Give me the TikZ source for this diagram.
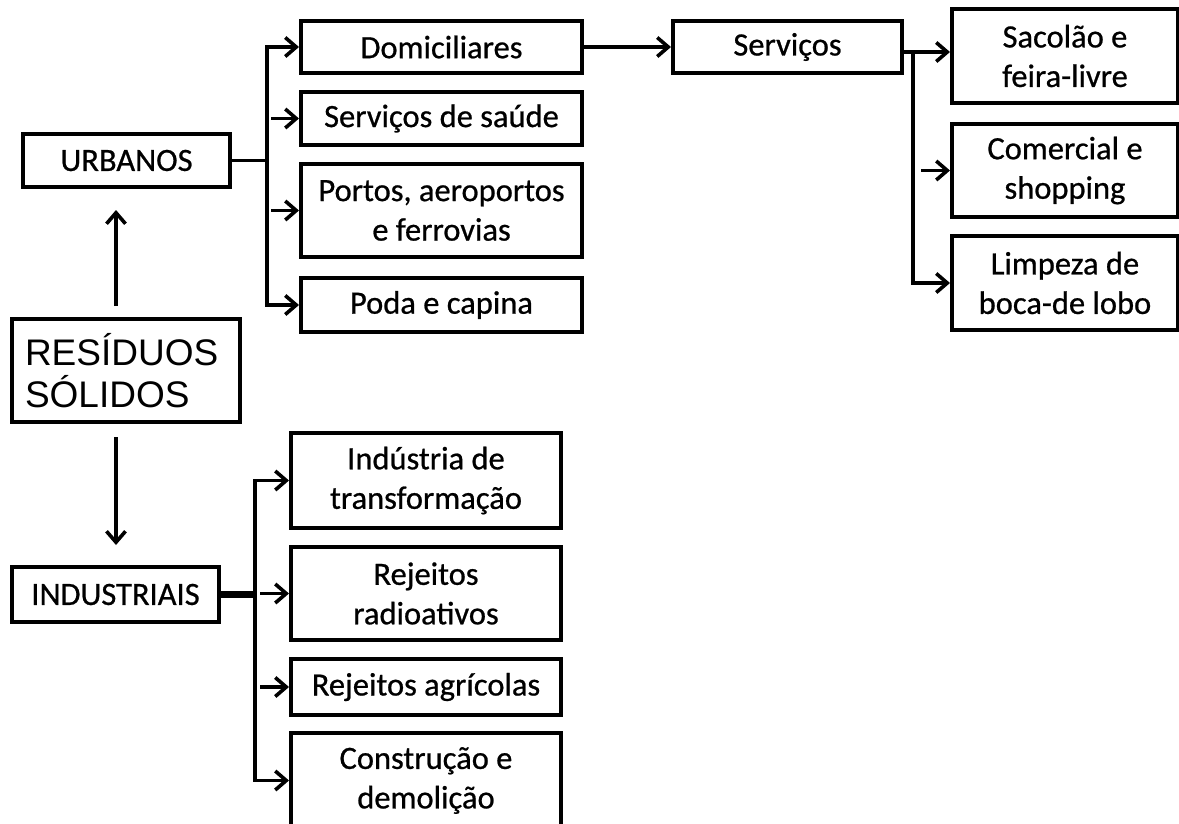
\documentclass[tikz,border=0pt]{standalone}
\usepackage{fontspec}
\setmainfont{Carlito}[FakeBold=0.7]
\newfontfamily\arialf{Liberation Sans}
\usetikzlibrary{arrows.meta}
\begin{document}
\begin{tikzpicture}[x=1pt,y=-1pt,
  box/.style={draw, line width=4pt, inner sep=0pt, align=center,
    font=\fontsize{32.5}{39.5}\selectfont},
  conn/.style={line width=3.6pt},
  arr/.style={conn, -{Straight Barb[length=11pt,width=19pt]}}]
\clip (0,0) rectangle (1179,823);
\useasboundingbox (0,0) rectangle (1179,823);
% left column
\node[box, minimum width=207pt, minimum height=53pt] (urb) at (126.5,160.5) {URBANOS};
\node[draw, line width=4pt, inner xsep=13pt, inner ysep=0pt, text width=202pt,
  minimum height=103pt, align=left, font=\arialf\fontsize{37}{42}\selectfont]
  (res) at (126,370.5) {RESÍDUOS\\SÓLIDOS};
\node[box, minimum width=207pt, minimum height=55pt] (ind) at (115.5,594.5) {INDUSTRIAIS};
% urban sub-boxes
\node[box, minimum width=281pt, minimum height=52pt] (dom) at (441.5,47) {Domiciliares};
\node[box, minimum width=281pt, minimum height=53pt] (ssa) at (441.5,118.5) {Serviços de saúde};
\node[box, minimum width=281pt, minimum height=93pt] (por) at (441.5,210.5) {Portos, aeroportos\\e ferrovias};
\node[box, minimum width=281pt, minimum height=54pt] (pod) at (441.5,305) {Poda e capina};
% services
\node[box, minimum width=229pt, minimum height=52pt] (ser) at (787.5,47) {Serviços};
\node[box, minimum width=226pt, minimum height=94pt] (sac) at (1065,56) {Sacolão e\\feira-livre};
\node[box, minimum width=226pt, minimum height=93pt] (com) at (1065,170.5) {Comercial e\\shopping};
\node[box, minimum width=226pt, minimum height=94pt] (lim) at (1065,283) {Limpeza de\\boca-de lobo};
% industrial sub-boxes
\node[box, minimum width=270pt, minimum height=95pt] (indt) at (426,480.5) {Indústria de\\transformação};
\node[box, minimum width=270pt, minimum height=93pt] (rad) at (426,593.5) {Rejeitos\\radioativos};
\node[box, minimum width=270pt, minimum height=56pt] (agr) at (426,687) {Rejeitos agrícolas};
\node[box, minimum width=270pt, minimum height=95pt] (con) at (426,780.5) {Construção e\\demolição};
% vertical arrows
\draw[arr] ([xshift=-10pt,yshift=11pt]res.north) -- ([xshift=-10.5pt,yshift=-21pt]urb.south);
\draw[arr] ([xshift=-10pt,yshift=-13pt]res.south) -- ([xshift=0.5pt,yshift=20pt]ind.north);
% urban bus
\coordinate (ub) at (267,161);
\draw[conn] (urb.east) -- (urb.east -| ub);
\draw[arr] (ub) |- (dom.west);
\draw[arr] (ub) |- (pod.west);
\draw[arr, shorten <=4pt] (ub |- ssa.west) -- (ssa.west);
\draw[arr, shorten <=4pt] (ub |- por.west) -- (por.west);
% services
\draw[arr] (dom.east) -- (ser.west);
\coordinate (sb) at (913,52);
\draw[conn] (ser.east |- sb) -- (sb);
\draw[arr] (sb) -- (sac.west |- sb);
\draw[arr] (sb) |- (lim.west);
\draw[arr, shorten <=8pt] (sb |- com.west) -- (com.west);
% industrial bus
\coordinate (ib) at (255,594.5);
\draw[line width=7pt] (ind.east) -- (ind.east -| ib);
\draw[arr] (ib) |- (indt.west);
\draw[arr] (ib) |- (con.west);
\draw[arr, shorten <=5pt] (ib |- rad.west) -- (rad.west);
\draw[arr, shorten <=5pt] (ib |- agr.west) -- (agr.west);
\end{tikzpicture}
\end{document}
